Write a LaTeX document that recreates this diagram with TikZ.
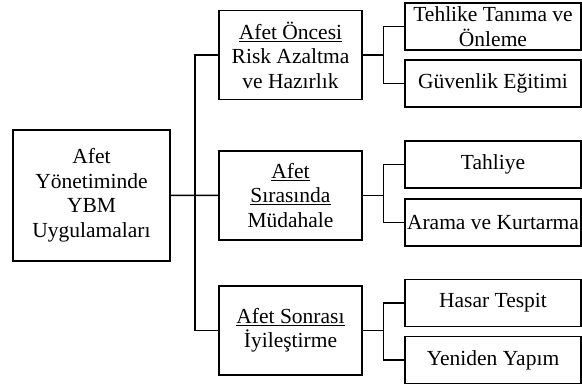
\documentclass[tikz,border=0pt]{standalone}
\usepackage{fontspec}
\setmainfont{Liberation Serif}
\begin{document}
\begin{tikzpicture}[x=1pt,y=-1pt,
  box/.style={draw,line width=1.5pt,inner sep=0pt,align=center,
    font=\fontsize{21.5}{24.5}\selectfont},
  rootbox/.style={box,minimum width=157pt,minimum height=131pt},
  midbox/.style={box,minimum width=143pt,minimum height=89pt},
  leafbox/.style={box,minimum width=176pt,minimum height=47pt},
  conn/.style={line width=1.5pt}]
\useasboundingbox (0,0) rectangle (582,387);
\node[rootbox] (root) at (91.5,195.5) {Afet\\Yönetiminde\\YBM\\Uygulamaları};
\node[midbox] (m1) at (290.5,55) {\underline{Afet Öncesi}\\Risk Azaltma\\ve Hazırlık};
\node[midbox] (m2) at (290.5,195.3) {\underline{Afet}\\\underline{Sırasında}\\Müdahale};
\node[midbox] (m3) at (290.5,330.5) {\underline{Afet Sonrası}\\İyileştirme};
\node[leafbox] (l1) at (493,26.5) {Tehlike Tanıma ve\\Önleme};
\node[leafbox] (l2) at (493,83.5) {Güvenlik Eğitimi};
\node[leafbox] (l3) at (493,164.5) {Tahliye};
\node[leafbox] (l4) at (493,222.5) {Arama ve Kurtarma};
\node[leafbox] (l5) at (493,303) {Hasar Tespit};
\node[leafbox] (l6) at (493,360) {Yeniden Yapım};
\coordinate (bx) at (195,0);
\coordinate (cx) at (383.5,0);
\draw[conn] (root.east) -- (m2.west);
\draw[conn] (m1.west) -- (m1.west -| bx) -- (m3.west -| bx) -- (m3.west);
\foreach \m/\a/\b in {m1/l1/l2,m2/l3/l4,m3/l5/l6}{
  \draw[conn] (\m.east) -- (\m.east -| cx);
  \draw[conn] (\a.west) -- (\a.west -| cx) -- (\b.west -| cx) -- (\b.west);
}
\end{tikzpicture}
\end{document}
